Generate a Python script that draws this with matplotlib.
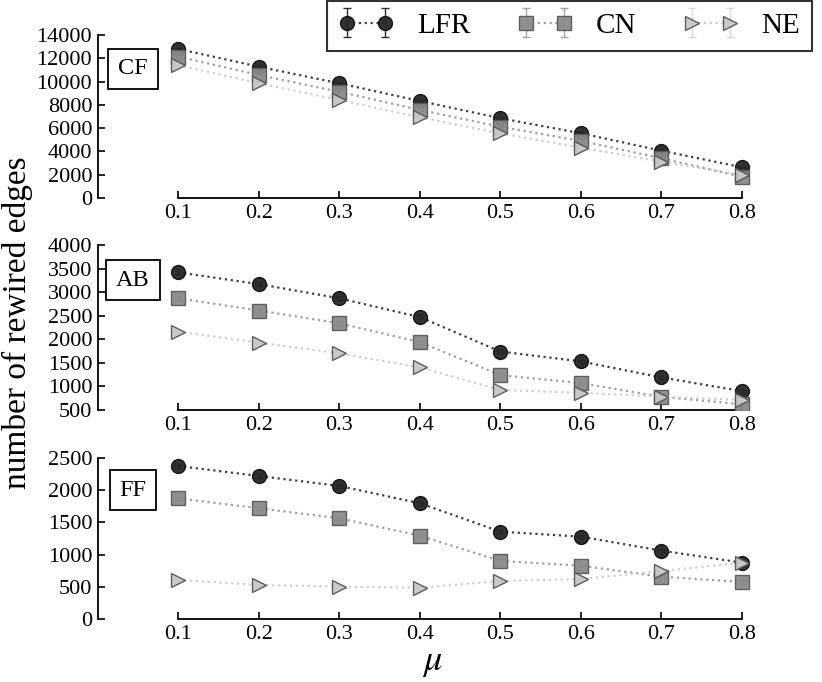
import matplotlib
matplotlib.use("Agg")
import matplotlib.pyplot as plt
import numpy as np

plt.rcParams['font.family'] = ['Liberation Serif', 'DejaVu Serif']
plt.rcParams['mathtext.fontset'] = 'stix'

mu = [0.1, 0.2, 0.3, 0.4, 0.5, 0.6, 0.7, 0.8]
xticks = [0.1, 0.2, 0.3, 0.4, 0.5, 0.6, 0.7, 0.8]
series_names = ["LFR", "CN", "NE"]
panel_names = ["CF", "AB", "FF"]

# CF
cf_lfr = [12800, 11280, 9850, 8330, 6850, 5560, 4060, 2640]
cf_cn = [12140, 10560, 9130, 7560, 6120, 4900, 3410, 1830]
cf_ne = [11420, 9850, 8420, 6930, 5560, 4320, 3120, 1970]
cf_lfr_err = [90, 90, 80, 80, 70, 70, 60, 60]
cf_cn_err = [90, 90, 80, 80, 70, 70, 60, 60]
cf_ne_err = [60, 60, 50, 50, 50, 40, 40, 40]

# AB
ab_lfr = [3420, 3170, 2870, 2470, 1740, 1530, 1190, 900]
ab_cn = [2870, 2610, 2340, 1940, 1240, 1070, 780, 620]
ab_ne = [2160, 1930, 1700, 1405, 924, 867, 782, 712]
ab_lfr_err = [40, 40, 40, 35, 35, 30, 30, 30]
ab_cn_err = [40, 40, 40, 35, 35, 30, 30, 30]
ab_ne_err = [20, 20, 20, 20, 20, 20, 20, 20]

# FF
ff_lfr = [2376, 2221, 2066, 1797, 1356, 1279, 1061, 875]
ff_cn = [1874, 1719, 1564, 1294, 901, 828, 657, 575]
ff_ne = [606, 528, 502, 487, 590, 621, 745, 875]
ff_lfr_err = [25, 25, 25, 25, 25, 25, 25, 25]
ff_cn_err = [25, 25, 25, 25, 25, 25, 25, 25]
ff_ne_err = [15, 15, 15, 15, 15, 15, 15, 15]

panels = [
    (cf_lfr, cf_cn, cf_ne, cf_lfr_err, cf_cn_err, cf_ne_err),
    (ab_lfr, ab_cn, ab_ne, ab_lfr_err, ab_cn_err, ab_ne_err),
    (ff_lfr, ff_cn, ff_ne, ff_lfr_err, ff_cn_err, ff_ne_err),
]
ylims = [(0, 14000), (500, 4000), (0, 2500)]
ytick_steps = [2000, 500, 500]

styles = [
    dict(marker='o', mfc='#262626', mec='#111111', line='#333333', ecolor='#222222'),
    dict(marker='s', mfc='#8a8a8a', mec='#5a5a5a', line='#9a9a9a', ecolor='#a0a0a0'),
    dict(marker='>', mfc='#c8c8c8', mec='#555555', line='#cccccc', ecolor='#d8d8d8'),
]

W, H = 822, 682
fig = plt.figure(figsize=(W / 100, H / 100), dpi=100)

left_px = 97.7
unit_px = 805.4
xmax = 0.83
# (top_px, bottom_px)
rows = [(35, 198), (245, 410), (458, 619)]
label_y = [69, 280, 490]

handles = None
for i, (pdata, (top, bot)) in enumerate(zip(panels, rows)):
    ax = fig.add_axes([left_px / W, (H - bot) / H, xmax * unit_px / W, (bot - top) / H])
    vals = pdata[:3]
    errs = pdata[3:]
    hs = []
    for j, (v, e, st) in enumerate(zip(vals, errs, styles)):
        h = ax.errorbar(mu, v, yerr=e, fmt=st['marker'], linestyle=':',
                        color=st['line'], mfc=st['mfc'], mec=st['mec'],
                        ms=10, mew=1.0, lw=1.6, ecolor=st['ecolor'],
                        elinewidth=1.0, capsize=3, capthick=1.0,
                        alpha=0.95, label=series_names[j], zorder=3 + j)
        hs.append(h)
    if handles is None:
        handles = hs
    ax.set_xlim(0.0, xmax)
    ax.set_ylim(*ylims[i])
    ax.set_xticks(xticks)
    ax.set_xticklabels([f"{t:.1f}" for t in xticks])
    ax.set_yticks(np.arange(ylims[i][0], ylims[i][1] + 1, ytick_steps[i]))
    for s in ['top', 'right']:
        ax.spines[s].set_visible(False)
    ax.spines['left'].set_linewidth(1.3)
    ax.spines['bottom'].set_linewidth(1.3)
    ax.spines['bottom'].set_bounds(0.1, 0.8)
    ax.tick_params(direction='in', length=5, width=1.2, labelsize=16, pad=4)
    ax.xaxis.set_ticks_position('bottom')
    ax.yaxis.set_ticks_position('left')
    ax.patch.set_alpha(0)
    ax.text((133 - left_px) / (xmax * unit_px), (bot - label_y[i]) / (bot - top),
            panel_names[i], transform=ax.transAxes, fontsize=17.5,
            ha='center', va='center',
            bbox=dict(boxstyle='square,pad=0.4', fc='white', ec='black', lw=1.3))
    if i == 2:
        ax.set_xlabel(r'$\mu$', fontsize=26, labelpad=2)

fig.text(17 / W, 1 - 323 / H, 'number of rewired edges', rotation=90,
         fontsize=24, ha='center', va='center')

leg = fig.legend(handles, series_names, loc='upper right',
                 bbox_to_anchor=(812 / W, 1 - 1 / H), ncol=3, numpoints=2,
                 fontsize=21, frameon=True, fancybox=False, edgecolor='black',
                 handlelength=1.9, handletextpad=0.8, columnspacing=1.6,
                 borderpad=0.4, borderaxespad=0.0)
leg.get_frame().set_linewidth(1.5)

fig.savefig('out.png', dpi=100)
